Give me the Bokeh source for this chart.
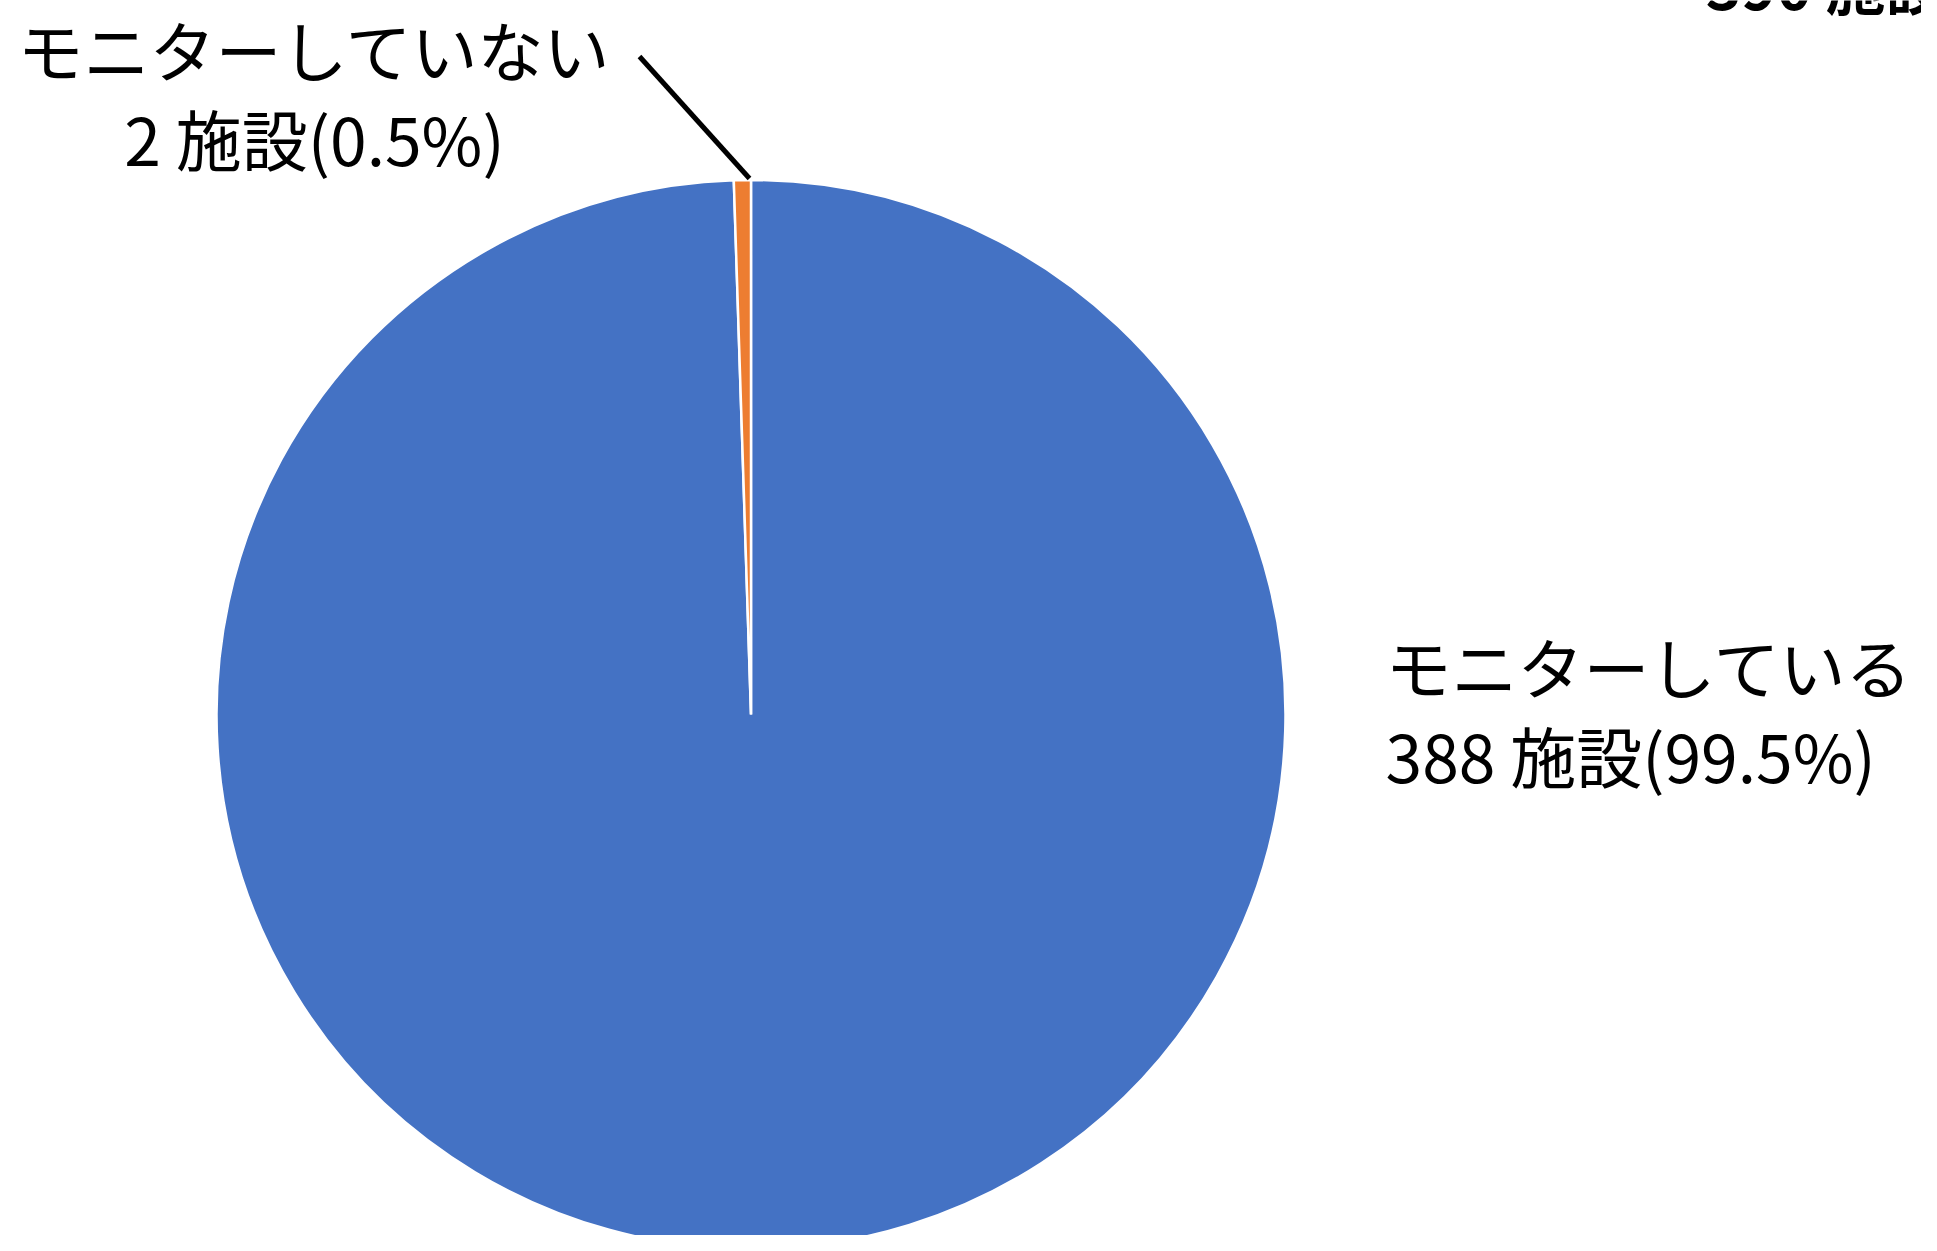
import math
from bokeh.plotting import figure
from bokeh.models import Range1d, ColumnDataSource
from bokeh.core.properties import value
from bokeh.embed import file_html
from bokeh.resources import INLINE

# ---- data ----
categories = ["モニターしている", "モニターしていない"]
counts = [388, 2]
percents = [99.5, 0.5]
unit = "施設"
colors = ["#4472C4", "#ED7D31"]

W, H = 1921, 1235
FONT = value("Noto Sans CJK JP")

p = figure(width=W, height=H, output_backend="svg", toolbar_location=None,
           x_range=Range1d(0, W), y_range=Range1d(0, H), min_border=0,
           tools="")
p.axis.visible = False
p.xgrid.visible = False
p.ygrid.visible = False
p.outline_line_color = None
p.background_fill_color = "white"
p.border_fill_color = "white"

# pie geometry
cx, cy, r = 750.5, 521, 534.5
total = sum(counts)
starts, ends = [], []
a = math.pi / 2
for c in counts:
    starts.append(a)
    a -= 2 * math.pi * c / total
    ends.append(a)

src = ColumnDataSource(dict(start=starts, end=ends, color=colors,
                            cat=categories, cnt=counts))
p.wedge(x=cx, y=cy, radius=r, start_angle="start", end_angle="end",
        direction="clock", fill_color="color", line_color="white",
        line_width=2.5, source=src)

# leader line for small slice
p.line(x=[639, 749], y=[1179, 1057], line_color="black", line_width=5)

# labels
lbl_small = [categories[1], f"{counts[1]} {unit}({percents[1]}%)"]
p.text(x=[314, 314], y=[1188, 1099], text=lbl_small, text_align="center",
       text_baseline="middle", text_font=FONT, text_font_size="66px",
       text_color="black")

lbl_big = [categories[0], f"{counts[0]} {unit}({percents[0]}%)"]
p.text(x=[1385, 1385], y=[571, 482], text=lbl_big, text_align="left",
       text_baseline="middle", text_font=FONT, text_font_size="66px",
       text_color="black")

# clipped title fragment at top right (only its lower edge shows, as in the reference)
p.text(x=[1945], y=[1252], text=[f"{total} {unit}"], text_align="right",
       text_baseline="alphabetic", text_font=FONT, text_font_size="60px",
       text_font_style="bold", text_color="black")

open("out.html", "w").write(file_html(p, INLINE))
